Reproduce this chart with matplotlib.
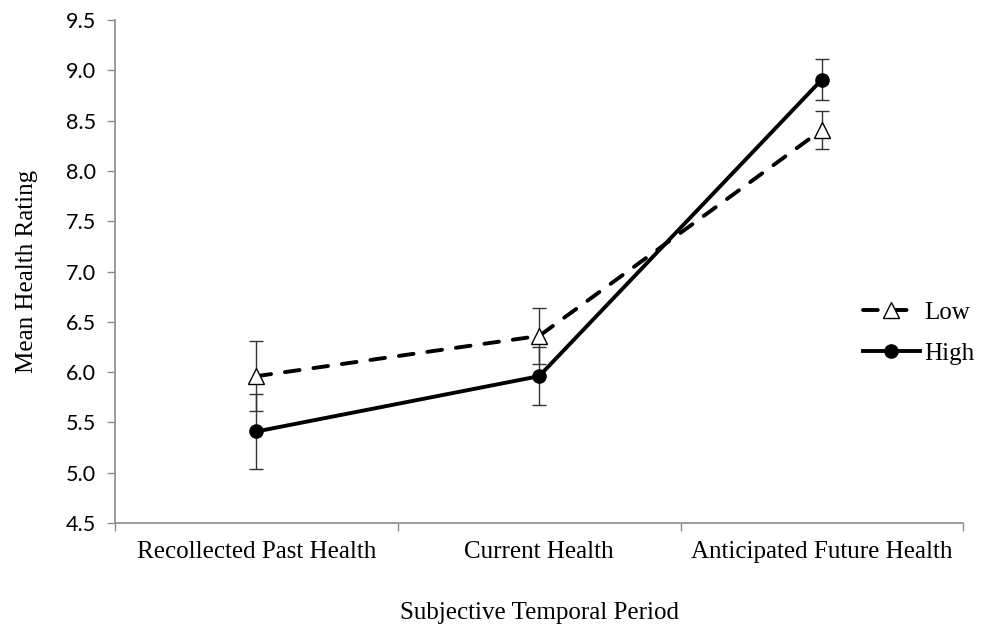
import matplotlib
matplotlib.use("Agg")
import matplotlib.pyplot as plt
import numpy as np

categories = ["Recollected Past Health", "Current Health", "Anticipated Future Health"]
low_mean = [5.96, 6.36, 8.41]
low_err = [0.35, 0.28, 0.19]
high_mean = [5.41, 5.96, 8.91]
high_err = [0.37, 0.29, 0.20]
yticks = [4.5, 5.0, 5.5, 6.0, 6.5, 7.0, 7.5, 8.0, 8.5, 9.0, 9.5]

serif = "Liberation Serif"
tickfont = "Lato"

fig = plt.figure(figsize=(9.92, 6.32), dpi=100)
ax = fig.add_axes([0.116, 0.1725, 0.855, 0.7955])

x = np.arange(len(categories)) + 0.5

ax.errorbar(x, low_mean, yerr=low_err, fmt="none", ecolor="#333333",
            elinewidth=1.0, capsize=5, capthick=1.0, zorder=2)
ax.errorbar(x, high_mean, yerr=high_err, fmt="none", ecolor="#333333",
            elinewidth=1.0, capsize=5, capthick=1.0, zorder=2)

ax.plot(x, low_mean, color="black", lw=2.8, linestyle=(0, (3.8, 3.6)),
        dash_capstyle="round",
        marker="^", markersize=11, markerfacecolor="white",
        markeredgecolor="black", markeredgewidth=1.0, label="Low", zorder=3)
ax.plot(x, high_mean, color="black", lw=2.8, linestyle="-",
        marker="o", markersize=9.5, markerfacecolor="black",
        markeredgecolor="black", label="High", zorder=4)

ax.set_xlim(0, 3)
ax.set_ylim(4.5, 9.5)
ax.set_yticks(yticks)
ax.set_yticklabels([f"{v:.1f}" for v in yticks], fontname=tickfont, fontsize=15.5)
ax.set_xticks([0, 1, 2, 3])
ax.set_xticklabels([])
ax.set_xticks(x, minor=True)
ax.set_xticklabels(categories, minor=True, fontname=serif, fontsize=18)
ax.tick_params(axis="x", which="minor", length=0, pad=13)
ax.tick_params(axis="x", which="major", length=6, color="#8c8c8c", width=1)
ax.tick_params(axis="y", length=6, color="#8c8c8c", width=1, pad=8)

for s in ["top", "right"]:
    ax.spines[s].set_visible(False)
for s in ["left", "bottom"]:
    ax.spines[s].set_color("#8c8c8c")
    ax.spines[s].set_linewidth(1.2)

ax.set_ylabel("Mean Health Rating", fontname=serif, fontsize=18, labelpad=20)
ax.set_xlabel("Subjective Temporal Period", fontname=serif, fontsize=18, labelpad=28)

leg = ax.legend(loc="center left", bbox_to_anchor=(0.855, 0.378), frameon=False,
                prop={"family": serif, "size": 18}, handlelength=2.3,
                handletextpad=0.15, labelspacing=0.75)

fig.savefig("out.png", dpi=100)
